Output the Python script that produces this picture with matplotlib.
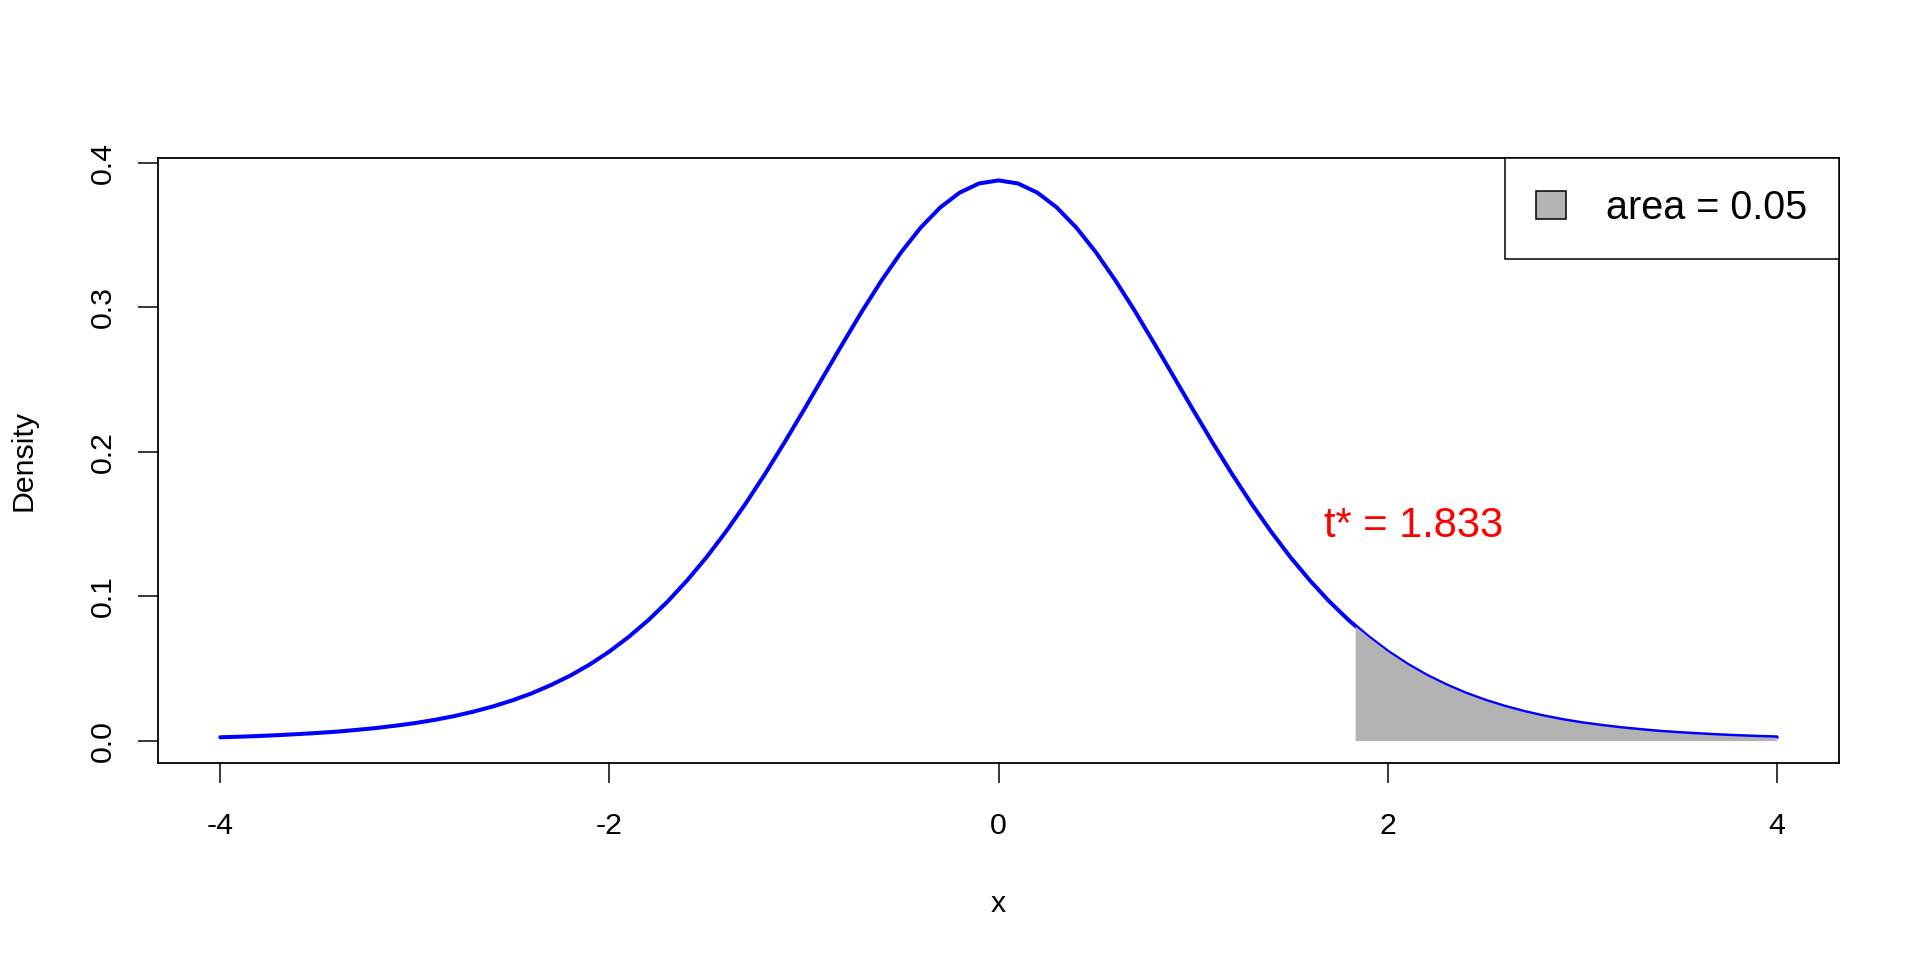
import numpy as np
import matplotlib
matplotlib.use('Agg')
from matplotlib import pyplot as plt
from matplotlib.patches import Patch

plt.rcParams['font.family'] = ['Liberation Sans', 'DejaVu Sans']

# t density (df = 9), right half (symmetric about 0)
x_half = [0.0, 0.1, 0.2, 0.3, 0.4, 0.5, 0.6, 0.7, 0.8, 0.9,
          1.0, 1.1, 1.2, 1.3, 1.4, 1.5, 1.6, 1.7, 1.8, 1.9,
          2.0, 2.1, 2.2, 2.3, 2.4, 2.5, 2.6, 2.7, 2.8, 2.9,
          3.0, 3.1, 3.2, 3.3, 3.4, 3.5, 3.6, 3.7, 3.8, 3.9, 4.0]
dens_half = [0.3880, 0.3859, 0.3795, 0.3692, 0.3553, 0.3383, 0.3189, 0.2977, 0.2752, 0.2522,
             0.2291, 0.2065, 0.1847, 0.1641, 0.1449, 0.1271, 0.1110, 0.0964, 0.0834, 0.0719,
             0.0617, 0.0528, 0.0451, 0.0385, 0.0327, 0.0278, 0.0236, 0.0200, 0.0169, 0.0143,
             0.0121, 0.0103, 0.0087, 0.0074, 0.0062, 0.0053, 0.0045, 0.0038, 0.0032, 0.0027, 0.0023]
t_star = 1.833
dens_t_star = 0.0794
area = 0.05
x_ticks = [-4, -2, 0, 2, 4]
y_ticks = [0.0, 0.1, 0.2, 0.3, 0.4]

x = np.concatenate([-np.array(x_half[:0:-1]), np.array(x_half)])
y = np.concatenate([np.array(dens_half[:0:-1]), np.array(dens_half)])
tail_x = np.concatenate([[t_star], x[x > t_star]])
tail_y = np.concatenate([[dens_t_star], y[x > t_star]])

fig = plt.figure(figsize=(19.2, 9.6), dpi=100)
ax = fig.add_axes([158/1920, 1 - 763/960, (1839-158)/1920, (763-158)/960])

# curve first, then the shaded tail over it (hides lower half of the line)
ax.plot(x, y, color='blue', lw=2.9, solid_capstyle='round', zorder=2)
ax.fill_between(tail_x, 0, tail_y, color='#B3B3B3', linewidth=0, zorder=3)
ax.text(t_star + 0.3, 0.1485, 't* = %.3f' % t_star, color='red', fontsize=30,
        ha='center', va='center', zorder=4)

ax.set_xlim(-4.32, 4.32)
ax.set_ylim(-0.01552, 0.40352)
ax.set_xticks(x_ticks)
ax.set_xticklabels(['%d' % v for v in x_ticks])
ax.set_yticks(y_ticks)
ax.set_yticklabels(['%.1f' % v for v in y_ticks], rotation=90, va='center')
ax.tick_params(axis='both', labelsize=21.8, length=14.4, width=1.1, direction='out')
ax.tick_params(axis='x', pad=21)
ax.tick_params(axis='y', pad=15.5)
for s in ax.spines.values():
    s.set_linewidth(1.3)

ax.set_xlabel('x', fontsize=21.8, labelpad=36)
ax.set_ylabel('Density', fontsize=21.8, labelpad=37)

leg = ax.legend(handles=[Patch(facecolor='#B3B3B3', edgecolor='black', lw=1.1,
                               label='area = %.2f' % area)],
                loc='upper right', borderaxespad=0, fancybox=False, fontsize=28.5,
                handlelength=0.76, handleheight=0.71, handletextpad=1.02,
                borderpad=0.79, framealpha=1)
leg.get_frame().set_edgecolor('black')
leg.get_frame().set_linewidth(1.1)

plt.savefig('out.png', dpi=100)
